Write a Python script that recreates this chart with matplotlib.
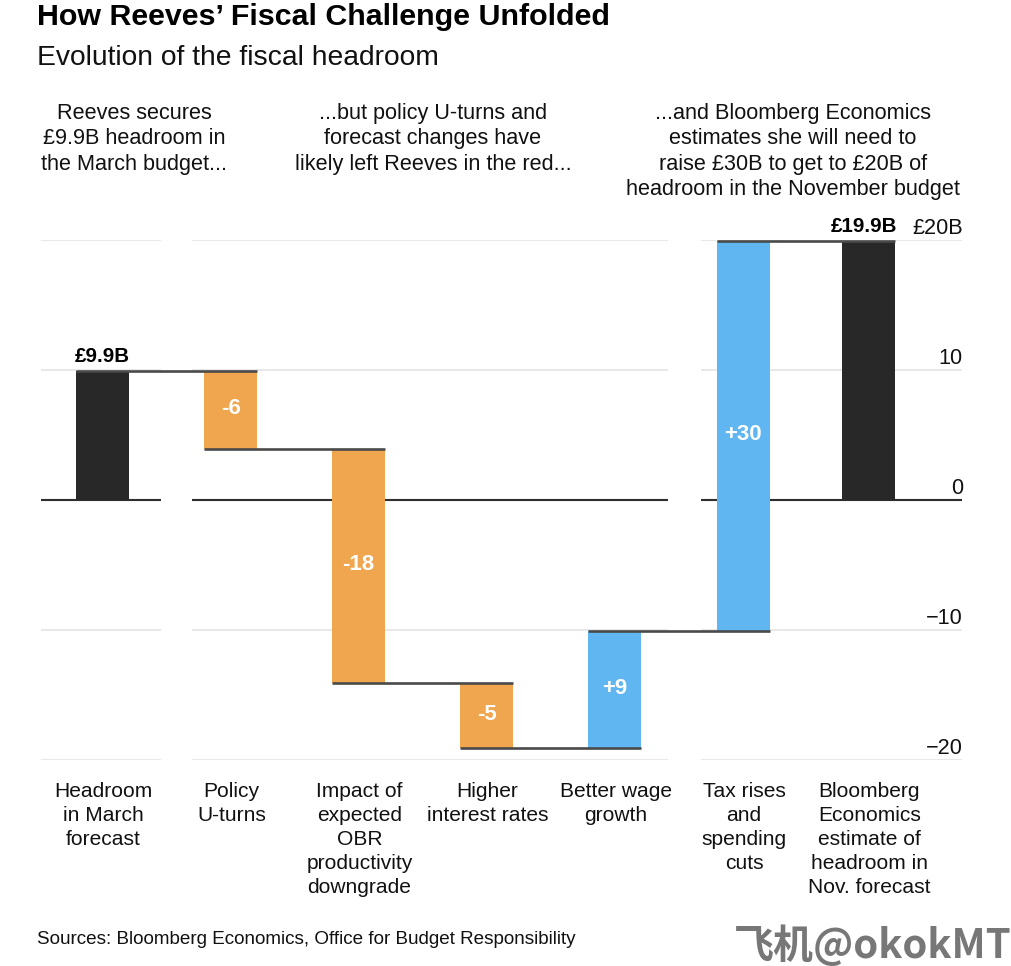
import numpy as np
import matplotlib
matplotlib.use("Agg")
import matplotlib.pyplot as plt
from matplotlib.transforms import Affine2D

plt.rcParams['font.family'] = ['Liberation Sans', 'DejaVu Sans']

W, H = 1011, 966

# data
start_value = 9.9
changes = [-6, -18, -5, 9, 30]
change_labels = ["-6", "-18", "-5", "+9", "+30"]
total_labels = ["£9.9B", "£19.9B"]
y_ticks = [20, 10, 0, -10, -20]
y_tick_labels = ["£20B", "10", "0", "\u221210", "\u221220"]
categories = [
    ["Headroom", "in March", "forecast"],
    ["Policy", "U-turns"],
    ["Impact of", "expected", "OBR", "productivity", "downgrade"],
    ["Higher", "interest rates"],
    ["Better wage", "growth"],
    ["Tax rises", "and", "spending", "cuts"],
    ["Bloomberg", "Economics", "estimate of", "headroom in", "Nov. forecast"],
]
annotations = [
    ["Reeves secures", "£9.9B headroom in", "the March budget..."],
    ["...but policy U-turns and", "forecast changes have", "likely left Reeves in the red..."],
    ["...and Bloomberg Economics", "estimates she will need to", "raise £30B to get to £20B of", "headroom in the November budget"],
]

# layout, in pixels
bar_x = [102.5, 230.5, 358.5, 486.5, 614.5, 743, 868.5]
bar_w = 53
grid_spans = [(41, 161), (192, 668), (701, 962)]
annotation_x = [134, 433, 793]

BLACK = "#282828"
ORANGE = "#F0A54F"
BLUE = "#5FB6F0"
LINE = "#4a4a4a"
GRID = "#e2e2e2"

fig = plt.figure(figsize=(W / 100, H / 100), dpi=100, facecolor="white")
ax = fig.add_axes([0, (H - 759.7) / H, 1, 519.7 / H])
ax.set_xlim(0, W)
ax.set_ylim(-20, 20)
ax.axis("off")

# pixel coords, origin top left
px = Affine2D().scale(1, -1).translate(0, H)


def txt(x, y, s, size=15.6, **kw):
    kw.setdefault("va", "center")
    kw.setdefault("color", "#111111")
    fig.text(x, y, s, transform=px, fontsize=size, **kw)


# broken grid lines
for t in y_ticks:
    for x0, x1 in grid_spans:
        if t == 0:
            ax.plot([x0, x1], [t, t], color="#2e2e2e", lw=1.5, zorder=1, solid_capstyle="butt")
        else:
            ax.plot([x0, x1], [t, t], color=GRID, lw=1.1, zorder=1, solid_capstyle="butt")

levels = np.concatenate([[start_value], start_value + np.cumsum(changes)])

# bars
ax.bar(bar_x[0], start_value, bar_w, color=BLACK, zorder=2)
ax.bar(bar_x[6], levels[-1], bar_w, color=BLACK, zorder=2)
for i, ch in enumerate(changes):
    ax.bar(bar_x[i + 1], abs(ch), bar_w, bottom=min(levels[i], levels[i + 1]),
           color=ORANGE if ch < 0 else BLUE, zorder=2)
    ax.text(bar_x[i + 1], (levels[i] + levels[i + 1]) / 2 + 0.1, change_labels[i], color="white",
            fontsize=16, fontweight="bold", ha="center", va="center", zorder=4)

# connectors between bars
for i, lev in enumerate(levels):
    ax.plot([bar_x[i] - bar_w / 2, bar_x[i + 1] + bar_w / 2], [lev, lev], color=LINE, lw=1.9,
            zorder=3, solid_capstyle="butt")

# total labels
txt(bar_x[0], 356, total_labels[0], size=14.8, fontweight="bold", ha="center", color="black")
txt(864, 227, total_labels[1], size=14.8, fontweight="bold", ha="center", color="black")

# y tick labels
for t, lab in zip(y_ticks, y_tick_labels):
    y = 499.7 - t * 12.99 - 11.5
    txt(963, y, lab, ha="right")

# annotations above chart
for cx, lines in zip(annotation_x, annotations):
    for j, line in enumerate(lines):
        txt(cx, 113.5 + j * 25.3, line, ha="center")

# category labels
for cx, lines in zip(bar_x, categories):
    for j, line in enumerate(lines):
        txt(cx + 1, 791.5 + j * 24, line, ha="center", size=15.1)

txt(37, 17, "How Reeves\u2019 Fiscal Challenge Unfolded", size=21.9, fontweight="bold", color="black")
txt(37, 58, "Evolution of the fiscal headroom", size=20.3)
txt(37, 939, "Sources: Bloomberg Economics, Office for Budget Responsibility", size=13.6)

# watermark
txt(734, 946, "飞机@okokMT", size=28.8, fontweight="bold", color="#777777",
    family=['Noto Sans CJK SC', 'DejaVu Sans'])

fig.savefig("out.png", dpi=100)
